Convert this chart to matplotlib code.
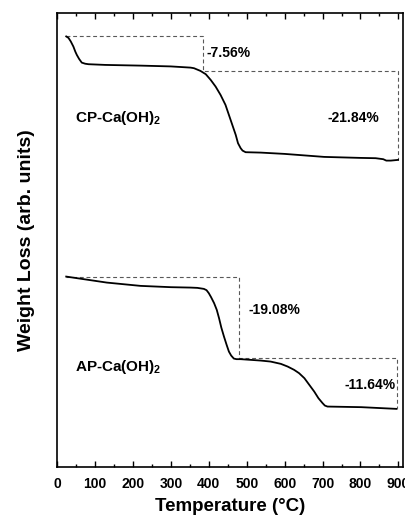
import numpy as np
import matplotlib
matplotlib.use('Agg')
import matplotlib.pyplot as plt
from matplotlib.ticker import MultipleLocator

plt.rcParams['font.family'] = ['Liberation Sans', 'DejaVu Sans']
plt.rcParams['font.weight'] = 'bold'
plt.rcParams['axes.labelweight'] = 'bold'
plt.rcParams['mathtext.fontset'] = 'custom'
plt.rcParams['mathtext.rm'] = 'Liberation Sans:bold'
plt.rcParams['mathtext.bf'] = 'Liberation Sans:bold'
plt.rcParams['mathtext.default'] = 'bf'

# CP-Ca(OH)2 TGA curve (temperature in C, weight in arb. units)
cp_temp = [24, 30, 36, 43, 48, 52, 58, 65, 74, 83, 127, 220, 300, 352, 361, 378,
           392, 405, 418, 431, 444, 453, 462, 471, 477, 484, 489, 497, 537, 600,
           704, 800, 840, 860, 868, 880, 899]
cp_weight = [430.5, 429, 425.5, 420.3, 415.3, 412, 408, 404.3, 403.2, 402.7, 402,
             401.3, 400.5, 399.3, 398.7, 396, 392.7, 387, 380.3, 372, 362, 352,
             342, 332, 323.7, 318.7, 316.3, 314.7, 314.3, 313, 310, 309, 308.7,
             307.7, 306.3, 306.3, 307]

# AP-Ca(OH)2 TGA curve
ap_temp = [24, 131, 220, 300, 352, 370, 387, 394, 400, 406, 414, 421, 427, 433,
           440, 447, 453, 459, 466, 473, 484, 537, 563, 590, 608, 625, 638, 652,
           665, 678, 689, 700, 706, 713, 802, 894]
ap_weight = [190.3, 184.3, 181, 179.7, 179.3, 179, 178, 176.7, 173.7, 169.7,
             163.7, 157, 148.7, 139.3, 130.3, 122, 115.3, 111.3, 108.3, 107.7,
             107.7, 106.3, 105.3, 103, 100.3, 97, 93.7, 88.7, 82, 75.3, 68.7,
             63.7, 61.3, 60.3, 59.7, 58]

# step guides (dashed) : x and y of the step outlines
cp_step_x = [24, 384, 384, 900, 900]
cp_step_y = [431, 431, 396, 396, 307]
ap_step_x = [24, 479, 479, 897, 897]
ap_step_y = [190, 190, 109, 109, 58]

cp_losses = ['-7.56%', '-21.84%']
ap_losses = ['-19.08%', '-11.64%']

fig = plt.figure(figsize=(4.05, 5.17), dpi=100)
ax = fig.add_axes([0.141, 0.097, 0.854, 0.878])

ax.plot(cp_step_x, cp_step_y, ls=(0, (3.5, 2.5)), color='0.35', lw=0.8)
ax.plot(ap_step_x, ap_step_y, ls=(0, (3.5, 2.5)), color='0.35', lw=0.8)
ax.plot(cp_temp, cp_weight, color='black', lw=1.3)
ax.plot(ap_temp, ap_weight, color='black', lw=1.3)

ax.text(394, 414, cp_losses[0], fontsize=10, ha='left', va='center')
ax.text(714, 349, cp_losses[1], fontsize=10, ha='left', va='center')
ax.text(48, 349, r'CP-Ca(OH)$_2$', fontsize=11, ha='left', va='center')
ax.text(505, 157, ap_losses[0], fontsize=10, ha='left', va='center')
ax.text(757, 82, ap_losses[1], fontsize=10, ha='left', va='center')
ax.text(48, 100, r'AP-Ca(OH)$_2$', fontsize=11, ha='left', va='center')

ax.set_xlim(0, 912)
ax.set_ylim(0, 454)
ax.xaxis.set_major_locator(MultipleLocator(100))
ax.xaxis.set_minor_locator(MultipleLocator(50))
ax.tick_params(axis='x', which='both', direction='in', top=True)
ax.tick_params(axis='x', which='major', length=4, width=1, labelsize=10, pad=7)
ax.tick_params(axis='x', which='minor', length=2, width=1)
ax.set_yticks([])
for s in ax.spines.values():
    s.set_linewidth(1.2)

ax.set_xlabel('Temperature (°C)', fontsize=13.5, labelpad=5)
ax.set_ylabel('Weight Loss (arb. units)', fontsize=14, labelpad=16)

fig.savefig('out.png', dpi=100)
